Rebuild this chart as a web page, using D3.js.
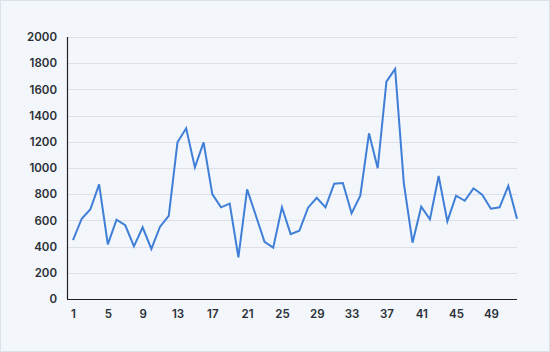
<!DOCTYPE html>
<html>
<head>
<meta charset="utf-8">
<script src="https://cdn.jsdelivr.net/npm/d3@7"></script>
<style>
  html, body { margin: 0; padding: 0; background: #f3f6fa; }
  .canvas { width: 550px; height: 352px; }
  text { font-family: Inter, "Noto Sans", sans-serif; }
</style>
</head>
<body>
<div class="canvas"></div>
<script>
// data: week number and value
const weeks = d3.range(1, 53);
const values = [
  450, 613, 685, 875, 417, 605, 563, 402, 547, 382,
  552, 634, 1196, 1303, 1005, 1196, 801, 700, 728, 318,
  837, 637, 437, 392, 700, 495, 521, 697, 773, 700,
  880, 885, 654, 789, 1265, 998, 1659, 1756, 885, 430,
  705, 608, 939, 593, 789, 750, 845, 796, 689, 700,
  863, 613
];
const yTicks = d3.range(0, 2001, 200);
const xTicks = weeks.filter(w => (w - 1) % 4 === 0);

const data = weeks.map((w, i) => ({week: w, value: values[i]}));

var margin = {top: 37, right: 33, bottom: 53, left: 67},
  width = 550 - margin.left - margin.right,
  height = 352 - margin.top - margin.bottom;

const svg = d3.select('.canvas')
  .append('svg')
  .attr('width', 550)
  .attr('height', 352);

// panel background + border
svg.append('rect')
  .attr('x', 0.5).attr('y', 0.5)
  .attr('width', 549).attr('height', 351)
  .attr('fill', '#f3f6fa')
  .attr('stroke', '#dce2ea');

const graph = svg.append('g')
  .attr('transform', `translate(${margin.left},${margin.top})`);

// scales
const x = d3.scaleLinear().domain([1, 52]).range([6, width]);
const y = d3.scaleLinear().domain([0, 2000]).range([height, 0]);

// gridlines
graph.append('g')
  .selectAll('line')
  .data(yTicks.filter(t => t > 0))
  .enter().append('line')
    .attr('x1', 0).attr('x2', width)
    .attr('y1', d => Math.round(y(d)) + 0.5)
    .attr('y2', d => Math.round(y(d)) + 0.5)
    .attr('stroke', '#dde1e7')
    .attr('stroke-width', 1);

// axes
const xAxis = d3.axisBottom(x)
  .tickValues(xTicks)
  .tickSize(0)
  .tickPadding(11)
  .tickFormat(d3.format('d'));

const yAxis = d3.axisLeft(y)
  .tickValues(yTicks)
  .tickSize(0)
  .tickPadding(10)
  .tickFormat(d3.format('d'));

const xAxisGroup = graph.append('g')
  .attr('transform', `translate(0, ${height})`)
  .call(xAxis);

const yAxisGroup = graph.append('g')
  .call(yAxis);

xAxisGroup.select('.domain').remove();
yAxisGroup.select('.domain').remove();

[xAxisGroup, yAxisGroup].forEach(g => g.selectAll('text')
  .attr('fill', '#2a2f36')
  .style('font-size', '11.5px')
  .style('font-weight', 600)
  .style('font-family', 'Inter, "Noto Sans", sans-serif'));

// axis lines
graph.append('line')
  .attr('x1', 0.5).attr('x2', 0.5)
  .attr('y1', 0).attr('y2', height)
  .attr('stroke', '#1f2328').attr('stroke-width', 1.2);

graph.append('line')
  .attr('x1', 0).attr('x2', width)
  .attr('y1', height + 0.5).attr('y2', height + 0.5)
  .attr('stroke', '#1f2328').attr('stroke-width', 1.2);

// line path
const line = d3.line()
  .x(d => x(d.week))
  .y(d => y(d.value));

graph.append('path')
  .datum(data)
  .attr('fill', 'none')
  .attr('stroke', '#3f7fd8')
  .attr('stroke-width', 2)
  .attr('stroke-linejoin', 'miter')
  .attr('d', line);
</script>
</body>
</html>
